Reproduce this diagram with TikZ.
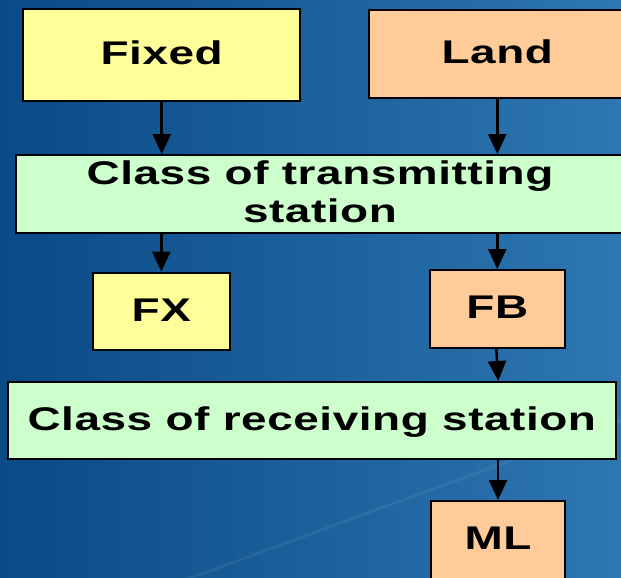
\documentclass[tikz,border=0pt]{standalone}
\usepackage{fontspec}
\usetikzlibrary{arrows.meta}
\newfontfamily\boxfont[FakeStretch=1.40,LetterSpace=1.7]{Liberation Sans}
\definecolor{bgdark}{RGB}{10,74,134}
\definecolor{bglight}{RGB}{46,119,178}
\definecolor{fixyellow}{RGB}{255,255,153}
\definecolor{landorange}{RGB}{255,204,153}
\definecolor{classgreen}{RGB}{204,255,204}
\tikzset{
  box/.style={draw=black, line width=2pt, rectangle, inner sep=0pt,
    font=\boxfont\bfseries\fontsize{32.8}{38}\selectfont,
    text height=23.5pt, text depth=4pt},
  fixedbox/.style={box, fill=fixyellow},
  landbox/.style={box, fill=landorange},
  classbox/.style={box, fill=classgreen},
  flow/.style={line width=2.5pt, -{Triangle[length=20pt,width=18pt]}}
}
\begin{document}
\begin{tikzpicture}[x=1pt,y=-1pt]
  % backdrop
  \useasboundingbox (0,0) rectangle (621,578);
  \shade[left color=bgdark, right color=bglight] (0,0) rectangle (621,578);
  \draw[white, opacity=0.06, line width=3pt] (185,580) -- (621,420);

  % boxes
  \node[fixedbox, minimum width=277.5pt, minimum height=91pt] (fixed) at (161.7,55) {Fixed};
  \node[landbox, minimum width=257.5pt, minimum height=88pt] (land) at (497.3,54.2) {Land};
  \node[classbox, minimum width=608pt, minimum height=78.3pt, text height=61.5pt] (trans) at (320,194.2)
    {\begin{tabular}[b]{@{}c@{}}Class of transmitting\\station\end{tabular}};
  \node[fixedbox, minimum width=136.5pt, minimum height=77.3pt] (fx) at (161.3,311.3) {FX};
  \node[landbox, minimum width=135.5pt, minimum height=77.7pt] (fb) at (497.3,308.9) {FB};
  \node[classbox, minimum width=607.6pt, minimum height=77pt] (rcv) at (311.8,420.5) {Class of receiving station};
  \node[landbox, minimum width=134.6pt, minimum height=78pt] (ml) at (498,540) {ML};

  % connectors
  \draw[flow] (fixed.south) -- (fixed.south |- trans.north);
  \draw[flow] (land.south) -- (land.south |- trans.north);
  \draw[flow] (fx.north |- trans.south) -- (fx.north);
  \draw[flow] (fb.north |- trans.south) -- (fb.north);
  \draw[flow] ([xshift=-1pt]fb.south) -- ([xshift=1pt]fb.south |- rcv.north);
  \draw[flow] (ml.north |- rcv.south) -- (ml.north);
\end{tikzpicture}
\end{document}
